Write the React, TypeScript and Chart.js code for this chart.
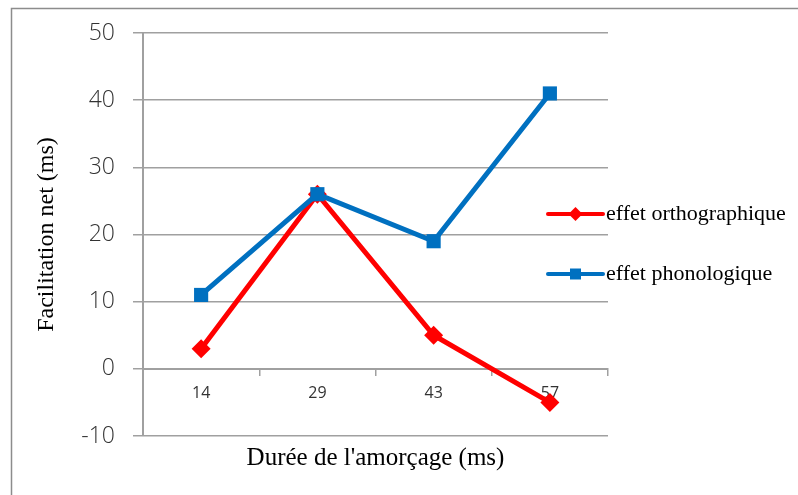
import React, { useEffect, useRef } from "react";
import { Chart, registerables } from "chart.js";

Chart.register(...registerables);

const categories = ["14", "29", "43", "57"];
const orthographique = [3, 26, 5, -5];
const phonologique = [11, 26, 19, 41];
const seriesNames = ["effet orthographique", "effet phonologique"];
const yTitle = "Facilitation net (ms)";
const xTitle = "Durée de l'amorçage (ms)";

const RED = "#FF0000";
const BLUE = "#0070C0";
const GRID = "#A0A0A0";
const SERIF = "'Liberation Serif', 'Times New Roman', serif";
const SANS = "'Open Sans', 'DejaVu Sans', sans-serif";

const framePlugin = {
  id: "frame",
  beforeDraw(chart: any) {
    const ctx = chart.ctx;
    ctx.save();
    ctx.strokeStyle = "#8C8C8C";
    ctx.lineWidth = 1.5;
    ctx.beginPath();
    ctx.moveTo(11.5, chart.height + 5);
    ctx.lineTo(11.5, 8.5);
    ctx.lineTo(chart.width + 5, 8.5);
    ctx.stroke();
    ctx.restore();
  },
};

const legendPlugin = {
  id: "customLegend",
  afterDraw(chart: any) {
    const ctx = chart.ctx;
    const area = chart.chartArea;
    const x0 = area.right - 60;
    const x1 = area.right - 5;
    const ys = [214, 274];
    chart.data.datasets.forEach((ds: any) => {
      const y = ys[ds.legendIndex];
      const color = ds.borderColor;
      ctx.save();
      ctx.strokeStyle = color;
      ctx.lineWidth = 4;
      ctx.lineCap = "round";
      ctx.beginPath();
      ctx.moveTo(x0, y);
      ctx.lineTo(x1, y);
      ctx.stroke();
      ctx.fillStyle = color;
      const cx = (x0 + x1) / 2;
      ctx.beginPath();
      if (ds.pointStyle === "rectRot") {
        const r = 7;
        ctx.moveTo(cx, y - r);
        ctx.lineTo(cx + r, y);
        ctx.lineTo(cx, y + r);
        ctx.lineTo(cx - r, y);
        ctx.closePath();
      } else {
        const s = 5.5;
        ctx.rect(cx - s, y - s, 2 * s, 2 * s);
      }
      ctx.fill();
      ctx.fillStyle = "#000";
      ctx.font = `22px ${SERIF}`;
      ctx.textBaseline = "middle";
      ctx.textAlign = "left";
      ctx.fillText(ds.label, x1 + 3, y);
      ctx.restore();
    });
  },
};

export default function App() {
  const ref = useRef<HTMLCanvasElement | null>(null);

  useEffect(() => {
    if (!ref.current) return;
    const chart = new Chart(ref.current, {
      type: "line",
      data: {
        labels: categories,
        datasets: [
          {
            label: seriesNames[0],
            data: orthographique,
            borderColor: RED,
            backgroundColor: RED,
            borderWidth: 5,
            pointStyle: "rectRot",
            pointRadius: 9.5,
            pointBorderWidth: 0,
            pointBackgroundColor: RED,
            xAxisID: "x",
            order: 2,
            legendIndex: 0,
          } as any,
          {
            label: seriesNames[1],
            data: phonologique,
            borderColor: BLUE,
            backgroundColor: BLUE,
            borderWidth: 5,
            pointStyle: "rect",
            pointRadius: 10,
            pointBorderWidth: 0,
            pointBackgroundColor: BLUE,
            xAxisID: "x",
            order: 1,
            legendIndex: 1,
          } as any,
        ],
      },
      options: {
        animation: false,
        responsive: false,
        maintainAspectRatio: false,
        devicePixelRatio: 1,
        layout: { padding: { top: 33, right: 190, bottom: 0, left: 0 } },
        plugins: {
          legend: { display: false },
          tooltip: { enabled: false },
        },
        elements: { line: { tension: 0 } },
        scales: {
          x: {
            type: "category",
            position: { y: 0 } as any,
            offset: true,
            grid: {
              offset: true,
              drawOnChartArea: false,
              drawTicks: true,
              tickLength: 6,
              color: GRID,
              lineWidth: 1.5,
            },
            border: { display: true, color: GRID, width: 2 },
            ticks: {
              color: "#333",
              font: { family: SANS, size: 16 },
              padding: 9,
            },
          },
          x2: {
            type: "category",
            position: "bottom",
            labels: categories,
            grid: { display: false },
            border: { display: false },
            ticks: { display: false },
            title: {
              display: true,
              text: xTitle,
              color: "#000",
              font: { family: SERIF, size: 25 },
              padding: { top: 0, bottom: 22 },
            },
            afterFit(scale: any) {
              scale.height = 59;
            },
          },
          y: {
            type: "linear",
            min: -10,
            max: 50,
            ticks: {
              stepSize: 10,
              color: "#333",
              font: { family: SANS, size: 23, weight: "300" as any },
              padding: 18,
            },
            grid: {
              color: GRID,
              lineWidth: 1.5,
              drawTicks: true,
              tickLength: 10,
            },
            border: { display: true, color: GRID, width: 2 },
            title: {
              display: true,
              text: yTitle,
              color: "#000",
              font: { family: SERIF, size: 24 },
              padding: { top: 32, bottom: 0 },
            },
            afterFit(scale: any) {
              scale.width = 143;
            },
          },
        },
      },
      plugins: [framePlugin, legendPlugin],
    });
    return () => chart.destroy();
  }, []);

  return (
    <div style={{ position: "fixed", left: 0, top: 0, width: 798, height: 495, background: "#fff" }}>
      <canvas ref={ref} width={798} height={495} style={{ width: 798, height: 495 }} />
    </div>
  );
}
